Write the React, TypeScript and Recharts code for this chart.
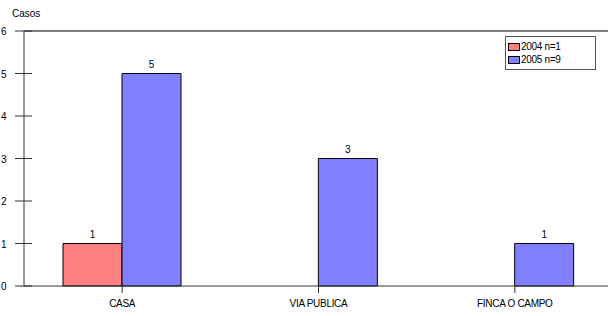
import React from "react";
import { BarChart, Bar, XAxis, YAxis, LabelList, ReferenceLine } from "recharts";

const categories = ["CASA", "VIA PUBLICA", "FINCA O CAMPO"];
const series2004 = [1, null, null];
const series2005 = [5, 3, 1];
const yTicks = [0, 1, 2, 3, 4, 5, 6];
const seriesNames = ["2004 n=1", "2005 n=9"];
const colors = ["#FF8080", "#8080FF"];

const data = categories.map((c, i) => ({ name: c, a: series2004[i], b: series2005[i] }));

const FONT = "'Liberation Sans', Arial, sans-serif";

const YTick = (props: any) => {
  const { y, payload } = props;
  return (
    <g>
      <line x1={15} x2={32} y1={y} y2={y} stroke="#333" strokeWidth={1} />
      <text x={1} y={y} dy={4} fontSize={10} fontFamily={FONT} fill="#000" textAnchor="start">
        {payload.value}
      </text>
    </g>
  );
};

const XTick = (props: any) => {
  const { x, payload } = props;
  return (
    <text x={x} y={307} fontSize={10} fontFamily={FONT} fill="#000" textAnchor="middle" letterSpacing={-0.3}>
      {payload.value}
    </text>
  );
};

const LegendBox = () => (
  <div
    style={{
      position: "absolute",
      left: 505,
      top: 36,
      width: 91,
      height: 34,
      border: "1px solid #555",
      background: "#fff",
      fontFamily: FONT,
      fontSize: 10,
      letterSpacing: -0.3,
      boxSizing: "border-box",
      paddingTop: 3,
      paddingLeft: 2,
    }}
  >
    {seriesNames.map((n, i) => (
      <div key={n} style={{ display: "flex", alignItems: "center", height: 13 }}>
        <span
          style={{
            display: "inline-block",
            width: 12,
            height: 8,
            background: colors[i],
            border: "1px solid #000",
            marginRight: 1,
            boxSizing: "border-box",
          }}
        />
        <span>{n}</span>
      </div>
    ))}
  </div>
);

export default function App() {
  return (
    <div style={{ position: "absolute", left: 0, top: 0, width: 608, height: 316, background: "#fff" }}>
      <BarChart
        width={608}
        height={316}
        data={data}
        margin={{ top: 31, right: -5, left: 0, bottom: 0 }}
        barGap={0}
      >
        <XAxis
          dataKey="name"
          tickSize={7}
          tick={<XTick />}
          stroke="#333"
          height={30}
          tickLine={{ stroke: "#333" }}
        />
        <YAxis
          domain={[0, 6]}
          ticks={yTicks}
          width={24}
          tickLine={false}
          tick={<YTick />}
          stroke="#333"
          interval={0}
        />
        <ReferenceLine y={6} stroke="#000" strokeWidth={1} />
        <Bar dataKey="a" fill={colors[0]} stroke="#000" strokeWidth={1} barSize={59} isAnimationActive={false}>
          <LabelList dataKey="a" position="top" offset={6} fontSize={10} fontFamily={FONT} fill="#000" />
        </Bar>
        <Bar dataKey="b" fill={colors[1]} stroke="#000" strokeWidth={1} barSize={59} isAnimationActive={false}>
          <LabelList dataKey="b" position="top" offset={6} fontSize={10} fontFamily={FONT} fill="#000" />
        </Bar>
      </BarChart>
      <div style={{ position: "absolute", left: 12, top: 8, fontFamily: FONT, fontSize: 10 }}>Casos</div>
      <LegendBox />
    </div>
  );
}
